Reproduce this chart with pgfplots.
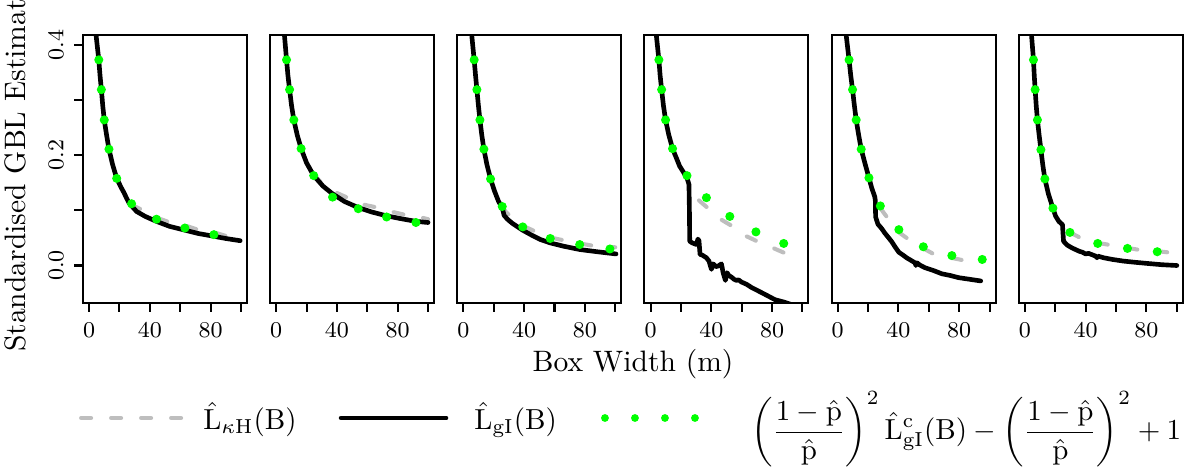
\documentclass[border=0pt]{standalone}
\usepackage{pgfplots}
\pgfplotsset{compat=1.18}
\definecolor{lgray}{RGB}{190,190,190}
\definecolor{dotgreen}{RGB}{0,255,0}
\tikzset{
  gline/.style={color=lgray, line width=1.4pt, line cap=round, dash pattern=on 3.45pt off 6.9pt},
  bline/.style={black, line width=1.6pt, line cap=round, line join=round},
}
\pgfplotsset{
  panel/.style={
    scale only axis, width=56.58pt, height=92.46pt,
    xmin=-4, xmax=104, ymin=-0.068, ymax=0.418,
    axis line style={line width=0.7pt},
    every tick/.style={black, line width=0.7pt},
    tick align=outside, major tick length=3.1pt,
    xtick={0,20,40,60,80,100}, xticklabels={0,,40,,80,},
    xtick pos=bottom, ytick pos=left,
    ytick=\empty,
    tick label style={font=\fontsize{7.8}{9}\selectfont},
    anchor=north west,
  },
  gdots/.style={only marks, mark=*, mark size=1.35pt, color=dotgreen, mark options={draw=none, fill=dotgreen}},
}
\begin{document}
\begin{tikzpicture}
\path[use as bounding box] (0pt,0pt) rectangle (411.585pt,-161.46pt);
% Panel 1
\begin{axis}[panel, at={(28.635pt,-12.075pt)},
  ytick={0,0.1,0.2,0.3,0.4}, yticklabels={0.0,,0.2,,0.4},
  yticklabel style={rotate=90, anchor=south},
  legend columns=3,
  legend style={draw=none, fill=none, inner sep=0pt, at={(-0.0275,-0.429)}, anchor=west,
    nodes={inner sep=0pt},
    font=\fontsize{10}{12}\selectfont,
    /tikz/column 1/.style={column sep=7pt},
    /tikz/column 2/.style={column sep=14.5pt},
    /tikz/column 3/.style={column sep=9pt},
    /tikz/column 4/.style={column sep=15.2pt},
    /tikz/column 5/.style={column sep=18pt}},
]
\addplot[gline, legend image code/.code={\draw[gline] (0pt,0pt) -- (34.5pt,0pt);}] coordinates {
(28,0.112)(30.2,0.107)(35.6,0.100)(46.3,0.085)(53.3,0.078)(65,0.071)(72.6,0.064)(83.7,0.059)(92,0.052)};
\addlegendentry{$\hat{\mathrm{L}}_{\kappa\mathrm{H}}(\mathrm{B})$}
\addplot[bline, legend image code/.code={\draw[bline] (0pt,0pt) -- (36.2pt,0pt);}] coordinates {
(4.3,0.44)(4.6,0.418)(6.4,0.373)(7.2,0.345)(8.1,0.319)(9,0.29)(10,0.264)(11.5,0.237)(13.1,0.211)(15.5,0.183)(18.2,0.158)(21,0.142)(23,0.132)(24.7,0.122)(26.4,0.113)(31.3,0.098)(37,0.089)(44.4,0.080)(53,0.071)(63.2,0.064)(72,0.058)(82.2,0.053)(90,0.049)(99.5,0.045)};
\addlegendentry{$\hat{\mathrm{L}}_{\mathrm{gI}}(\mathrm{B})$}
\addplot[gdots, legend image code/.code={\draw[dotgreen, line width=2.7pt, line cap=round, dash pattern=on 0pt off 10.35pt] (0pt,0pt) -- (31.1pt,0pt);}] coordinates {
(6.4,0.373)(8.1,0.319)(10.0,0.264)(13.1,0.211)(18.2,0.158)(28.0,0.112)(44.4,0.084)(63.1,0.068)(82.2,0.056)};
\addlegendentry{$\displaystyle\left(\frac{1-\hat{\mathrm{p}}}{\hat{\mathrm{p}}}\right)^{2}\hat{\mathrm{L}}^{\mathrm{c}}_{\mathrm{gI}}(\mathrm{B})-\left(\frac{1-\hat{\mathrm{p}}}{\hat{\mathrm{p}}}\right)^{2}+1$}
\end{axis}
% Panel 2
\begin{axis}[panel, at={(93.20pt,-12.075pt)}]
\addplot[gline] coordinates {
(24.7,0.165)(30.8,0.147)(39.6,0.132)(47.3,0.1225)(58.2,0.110)(65.9,0.1055)(76.9,0.097)(84.6,0.092)(95.6,0.087)(100,0.084)};
\addplot[bline] coordinates {
(4.9,0.44)(5.5,0.415)(6.8,0.373)(7.7,0.345)(8.8,0.319)(10.1,0.29)(11.6,0.264)(13.8,0.237)(16.4,0.212)(20,0.186)(24.7,0.163)(30.8,0.144)(37.1,0.130)(45,0.116)(54.1,0.105)(63,0.097)(72.8,0.090)(82,0.085)(92.1,0.080)(100,0.078)};
\addplot[gdots] coordinates {
(6.8,0.373)(8.8,0.319)(11.6,0.264)(16.4,0.212)(24.7,0.163)(37.1,0.124)(54.0,0.103)(72.7,0.088)(92.0,0.078)};
\end{axis}
% Panel 3
\begin{axis}[panel, at={(157.77pt,-12.075pt)}]
\addplot[gline] coordinates {
(25.6,0.107)(28,0.097)(32,0.087)(39.1,0.072)(44,0.066)(50,0.058)(57.2,0.051)(62,0.048)(67.5,0.045)(76.6,0.040)(85,0.036)(100,0.033)};
\addplot[bline] coordinates {
(4.9,0.44)(5.5,0.418)(7.1,0.373)(8.0,0.345)(8.9,0.319)(9.9,0.29)(10.9,0.264)(12.1,0.237)(13.5,0.211)(15.5,0.183)(17.9,0.157)(20.5,0.135)(23.2,0.116)(25.6,0.105)(26.8,0.091)(29,0.084)(32,0.077)(39.1,0.064)(45,0.055)(50.8,0.047)(57.2,0.041)(66,0.035)(76.6,0.029)(88,0.025)(100.5,0.021)};
\addplot[gdots] coordinates {
(7.1,0.373)(8.9,0.319)(10.9,0.264)(13.5,0.211)(17.9,0.157)(25.6,0.107)(39.1,0.070)(57.2,0.049)(76.6,0.038)(96.5,0.030)};
\end{axis}
% Panel 4
\begin{axis}[panel, at={(222.34pt,-12.075pt)}]
\addplot[gline] coordinates {
(31.9,0.118)(37.8,0.104)(46.7,0.083)(54,0.071)(63.2,0.053)(70.9,0.043)(81.3,0.031)(89.7,0.021)};
\addplot[bline] coordinates {
(3.4,0.44)(3.8,0.418)(5.5,0.373)(6.3,0.345)(7.3,0.319)(8.5,0.29)(9.9,0.264)(12,0.237)(14.5,0.212)(19.2,0.180)(24.0,0.159)(25.3,0.147)(25.6,0.10)(25.8,0.044)(27.5,0.041)(30.2,0.038)(31.2,0.048)(31.9,0.045)(32.6,0.020)(34,0.019)(36.8,0.014)(38.5,0.008)(40.1,-0.007)(41.2,0.003)(43,-0.002)(44.5,-0.001)(46.7,0.003)(47.8,-0.013)(49.3,-0.027)(50.4,-0.013)(51.5,-0.018)(53.3,-0.021)(55,-0.025)(56.6,-0.027)(58,-0.026)(59.9,-0.030)(63.2,-0.034)(66.6,-0.040)(70.9,-0.046)(76.5,-0.054)(82.0,-0.062)(87.5,-0.066)(90.8,-0.069)(92,-0.07)};
\addplot[gdots] coordinates {
(5.5,0.373)(7.3,0.319)(9.9,0.264)(14.5,0.212)(24.0,0.163)(36.8,0.123)(52.2,0.089)(69.4,0.061)(87.7,0.040)};
\end{axis}
% Panel 5
\begin{axis}[panel, at={(286.90pt,-12.075pt)}]
\addplot[gline] coordinates {
(28.1,0.104)(32.1,0.089)(36,0.073)(40.9,0.059)(45.4,0.050)(50,0.042)(56.4,0.031)(62.4,0.022)(68,0.018)(74.7,0.014)(81.8,0.010)(95.2,0.007)};
\addplot[bline] coordinates {
(4.9,0.44)(5.6,0.418)(7.5,0.373)(8.6,0.345)(9.8,0.319)(11,0.29)(12.2,0.264)(13.8,0.237)(15.5,0.211)(18,0.185)(20.6,0.159)(22.5,0.140)(24.4,0.125)(24.8,0.118)(25.0,0.088)(26.5,0.075)(29,0.067)(31,0.059)(35.4,0.044)(38,0.033)(40.3,0.024)(43,0.019)(45.4,0.014)(48.5,0.009)(50.9,0.005)(51.5,0.0)(52.2,0.005)(54,0.001)(57.5,-0.004)(63,-0.009)(68.6,-0.015)(74,-0.018)(79.6,-0.022)(87,-0.025)(94.2,-0.028)};
\addplot[gdots] coordinates {
(7.5,0.373)(9.8,0.319)(12.2,0.264)(15.5,0.211)(20.6,0.159)(28.1,0.108)(40.3,0.065)(56.4,0.034)(75.2,0.018)(95.2,0.011)};
\end{axis}
% Panel 6
\begin{axis}[panel, at={(351.47pt,-12.075pt)}]
\addplot[gline] coordinates {
(29.7,0.060)(36.7,0.050)(48,0.041)(56.6,0.037)(67.6,0.032)(76,0.028)(87.2,0.026)(95.5,0.0235)};
\addplot[bline] coordinates {
(4,0.44)(4.4,0.418)(5.7,0.373)(6.2,0.345)(6.8,0.319)(7.5,0.29)(8.3,0.264)(9.4,0.237)(10.6,0.210)(11.8,0.183)(13.2,0.157)(15.5,0.130)(18.5,0.104)(20.2,0.090)(22.4,0.080)(24.8,0.074)(25.1,0.060)(25.5,0.044)(27.9,0.037)(31,0.032)(35.7,0.026)(38,0.024)(40,0.021)(42,0.022)(46.7,0.017)(47.5,0.014)(48.2,0.017)(52,0.014)(57.7,0.011)(65,0.008)(72,0.006)(79.7,0.004)(90,0.0015)(100.1,0.000)};
\addplot[gdots] coordinates {
(5.7,0.373)(6.8,0.319)(8.3,0.264)(10.6,0.210)(13.2,0.157)(18.5,0.104)(29.7,0.060)(48.0,0.040)(67.6,0.031)(87.2,0.025)};
\end{axis}
\node[rotate=90, font=\fontsize{10.2}{12}\selectfont] at (5.175pt,-58.3pt) {Standardised GBL Estimate};
\node[anchor=base, font=\fontsize{10.2}{12}\selectfont] at (218.4pt,-128.3pt) {Box Width (m)};
\end{tikzpicture}
\end{document}
